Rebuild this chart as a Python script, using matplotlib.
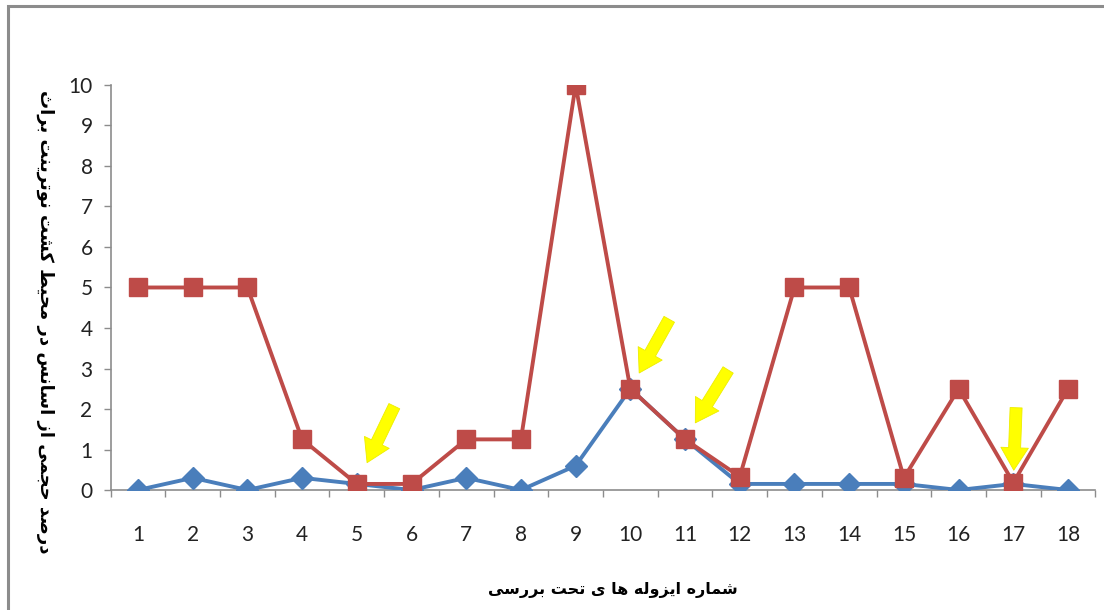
import matplotlib
matplotlib.use("Agg")
import matplotlib.pyplot as plt
from matplotlib.patches import Rectangle
from matplotlib.ticker import FixedLocator

isolates = list(range(1, 19))
red_vals = [5, 5, 5, 1.25, 0.15, 0.15, 1.25, 1.25, 10, 2.5, 1.25, 0.33, 5, 5, 0.3, 2.5, 0.18, 2.5]
blue_vals = [0, 0.3, 0, 0.3, 0.15, 0, 0.3, 0, 0.6, 2.5, 1.25, 0.15, 0.15, 0.15, 0.15, 0, 0.15, 0]
arrow_points = [5, 10, 11, 17]
x_title = "شماره ایزوله ها ی تحت بررسی"
y_title = "درصد حجمی از اسانس در محیط کشت نوترینت براث"

# Arabic presentation forms: isolated, final, initial, medial
FORMS = {
    "ا": ("\uFE8D", "\uFE8E", None, None),
    "ب": ("\uFE8F", "\uFE90", "\uFE91", "\uFE92"),
    "ت": ("\uFE95", "\uFE96", "\uFE97", "\uFE98"),
    "ث": ("\uFE99", "\uFE9A", "\uFE9B", "\uFE9C"),
    "ج": ("\uFE9D", "\uFE9E", "\uFE9F", "\uFEA0"),
    "ح": ("\uFEA1", "\uFEA2", "\uFEA3", "\uFEA4"),
    "د": ("\uFEA9", "\uFEAA", None, None),
    "ر": ("\uFEAD", "\uFEAE", None, None),
    "ز": ("\uFEAF", "\uFEB0", None, None),
    "س": ("\uFEB1", "\uFEB2", "\uFEB3", "\uFEB4"),
    "ش": ("\uFEB5", "\uFEB6", "\uFEB7", "\uFEB8"),
    "ص": ("\uFEB9", "\uFEBA", "\uFEBB", "\uFEBC"),
    "ط": ("\uFEC1", "\uFEC2", "\uFEC3", "\uFEC4"),
    "ل": ("\uFEDD", "\uFEDE", "\uFEDF", "\uFEE0"),
    "م": ("\uFEE1", "\uFEE2", "\uFEE3", "\uFEE4"),
    "ن": ("\uFEE5", "\uFEE6", "\uFEE7", "\uFEE8"),
    "ه": ("\uFEE9", "\uFEEA", "\uFEEB", "\uFEEC"),
    "و": ("\uFEED", "\uFEEE", None, None),
    "ک": ("\uFB8E", "\uFB8F", "\uFB90", "\uFB91"),
    "ی": ("\uFBFC", "\uFBFD", "\uFBFE", "\uFBFF"),
}


def shape_rtl(text):
    """Join Persian letters into contextual forms and reverse for LTR drawing."""
    out = []
    for i, ch in enumerate(text):
        if ch not in FORMS:
            out.append(ch)
            continue
        prev = text[i - 1] if i > 0 else ""
        nxt = text[i + 1] if i + 1 < len(text) else ""
        join_prev = prev in FORMS and FORMS[prev][2] is not None
        join_next = FORMS[ch][2] is not None and nxt in FORMS
        iso, fin, ini, med = FORMS[ch]
        if join_prev and join_next:
            out.append(med)
        elif join_prev:
            out.append(fin)
        elif join_next:
            out.append(ini)
        else:
            out.append(iso)
    return "".join(out)[::-1]


plt.rcParams["font.family"] = ["Lato", "DejaVu Sans"]

fig = plt.figure(figsize=(11.04, 6.10), dpi=100)
fig.patches.append(Rectangle((8 / 1104, -0.05), 1.1, 1.05 - 6 / 610, transform=fig.transFigure,
                             fill=False, edgecolor="#8c8c8c", linewidth=2.2, zorder=0))
ax = fig.add_axes([0.1002, 0.1967, 0.892, 0.664])

blue = "#4A7EBB"
red = "#BE4B48"
ax.plot(isolates, blue_vals, color=blue, linewidth=2.8, marker="D", markersize=11,
        markeredgecolor=blue, zorder=3)
ax.plot(isolates, red_vals, color=red, linewidth=2.8, marker="s", markersize=13,
        markeredgecolor=red, zorder=4)

# yellow arrows: tail offset (points) and gap left before the marker
arrow_tail = {5: (27, 56), 10: (28, 50), 11: (31, 50), 17: (2, 54)}
arrow_gap = {5: 17, 10: 13, 11: 14, 17: 9}
for k in arrow_points:
    ax.annotate("", xy=(k, red_vals[k - 1]), xycoords="data",
                xytext=arrow_tail[k], textcoords="offset points",
                arrowprops=dict(arrowstyle="simple,head_length=0.9,head_width=1.1,tail_width=0.48",
                                fc="#FFFF00", ec="#EDED00", lw=0.6, mutation_scale=18,
                                shrinkA=0, shrinkB=arrow_gap[k]),
                zorder=6)

ax.set_xlim(0.5, 18.5)
ax.set_ylim(0, 10)
ax.set_xticks(isolates)
ax.xaxis.set_minor_locator(FixedLocator([i + 0.5 for i in range(0, 19)]))
ax.set_yticks(range(0, 11))
ax.tick_params(axis="x", which="major", length=0, pad=25, labelsize=15, colors="#222222")
ax.tick_params(axis="x", which="minor", length=5, width=1, color="#8c8c8c")
ax.tick_params(axis="y", length=5, width=1, color="#8c8c8c", pad=8, labelsize=15,
               labelcolor="#222222")
for s in ("top", "right"):
    ax.spines[s].set_visible(False)
for s in ("left", "bottom"):
    ax.spines[s].set_color("#8c8c8c")
    ax.spines[s].set_linewidth(1.2)

fig.text(0.555, 0.032, shape_rtl(x_title), ha="center", va="center", fontsize=11.5,
         fontweight="bold", family=["DejaVu Sans"])
fig.text(0.041, 0.472, shape_rtl(y_title), ha="center", va="center", fontsize=13,
         fontweight="bold", rotation=270, family=["DejaVu Sans"])

fig.savefig("out.png", dpi=100)
